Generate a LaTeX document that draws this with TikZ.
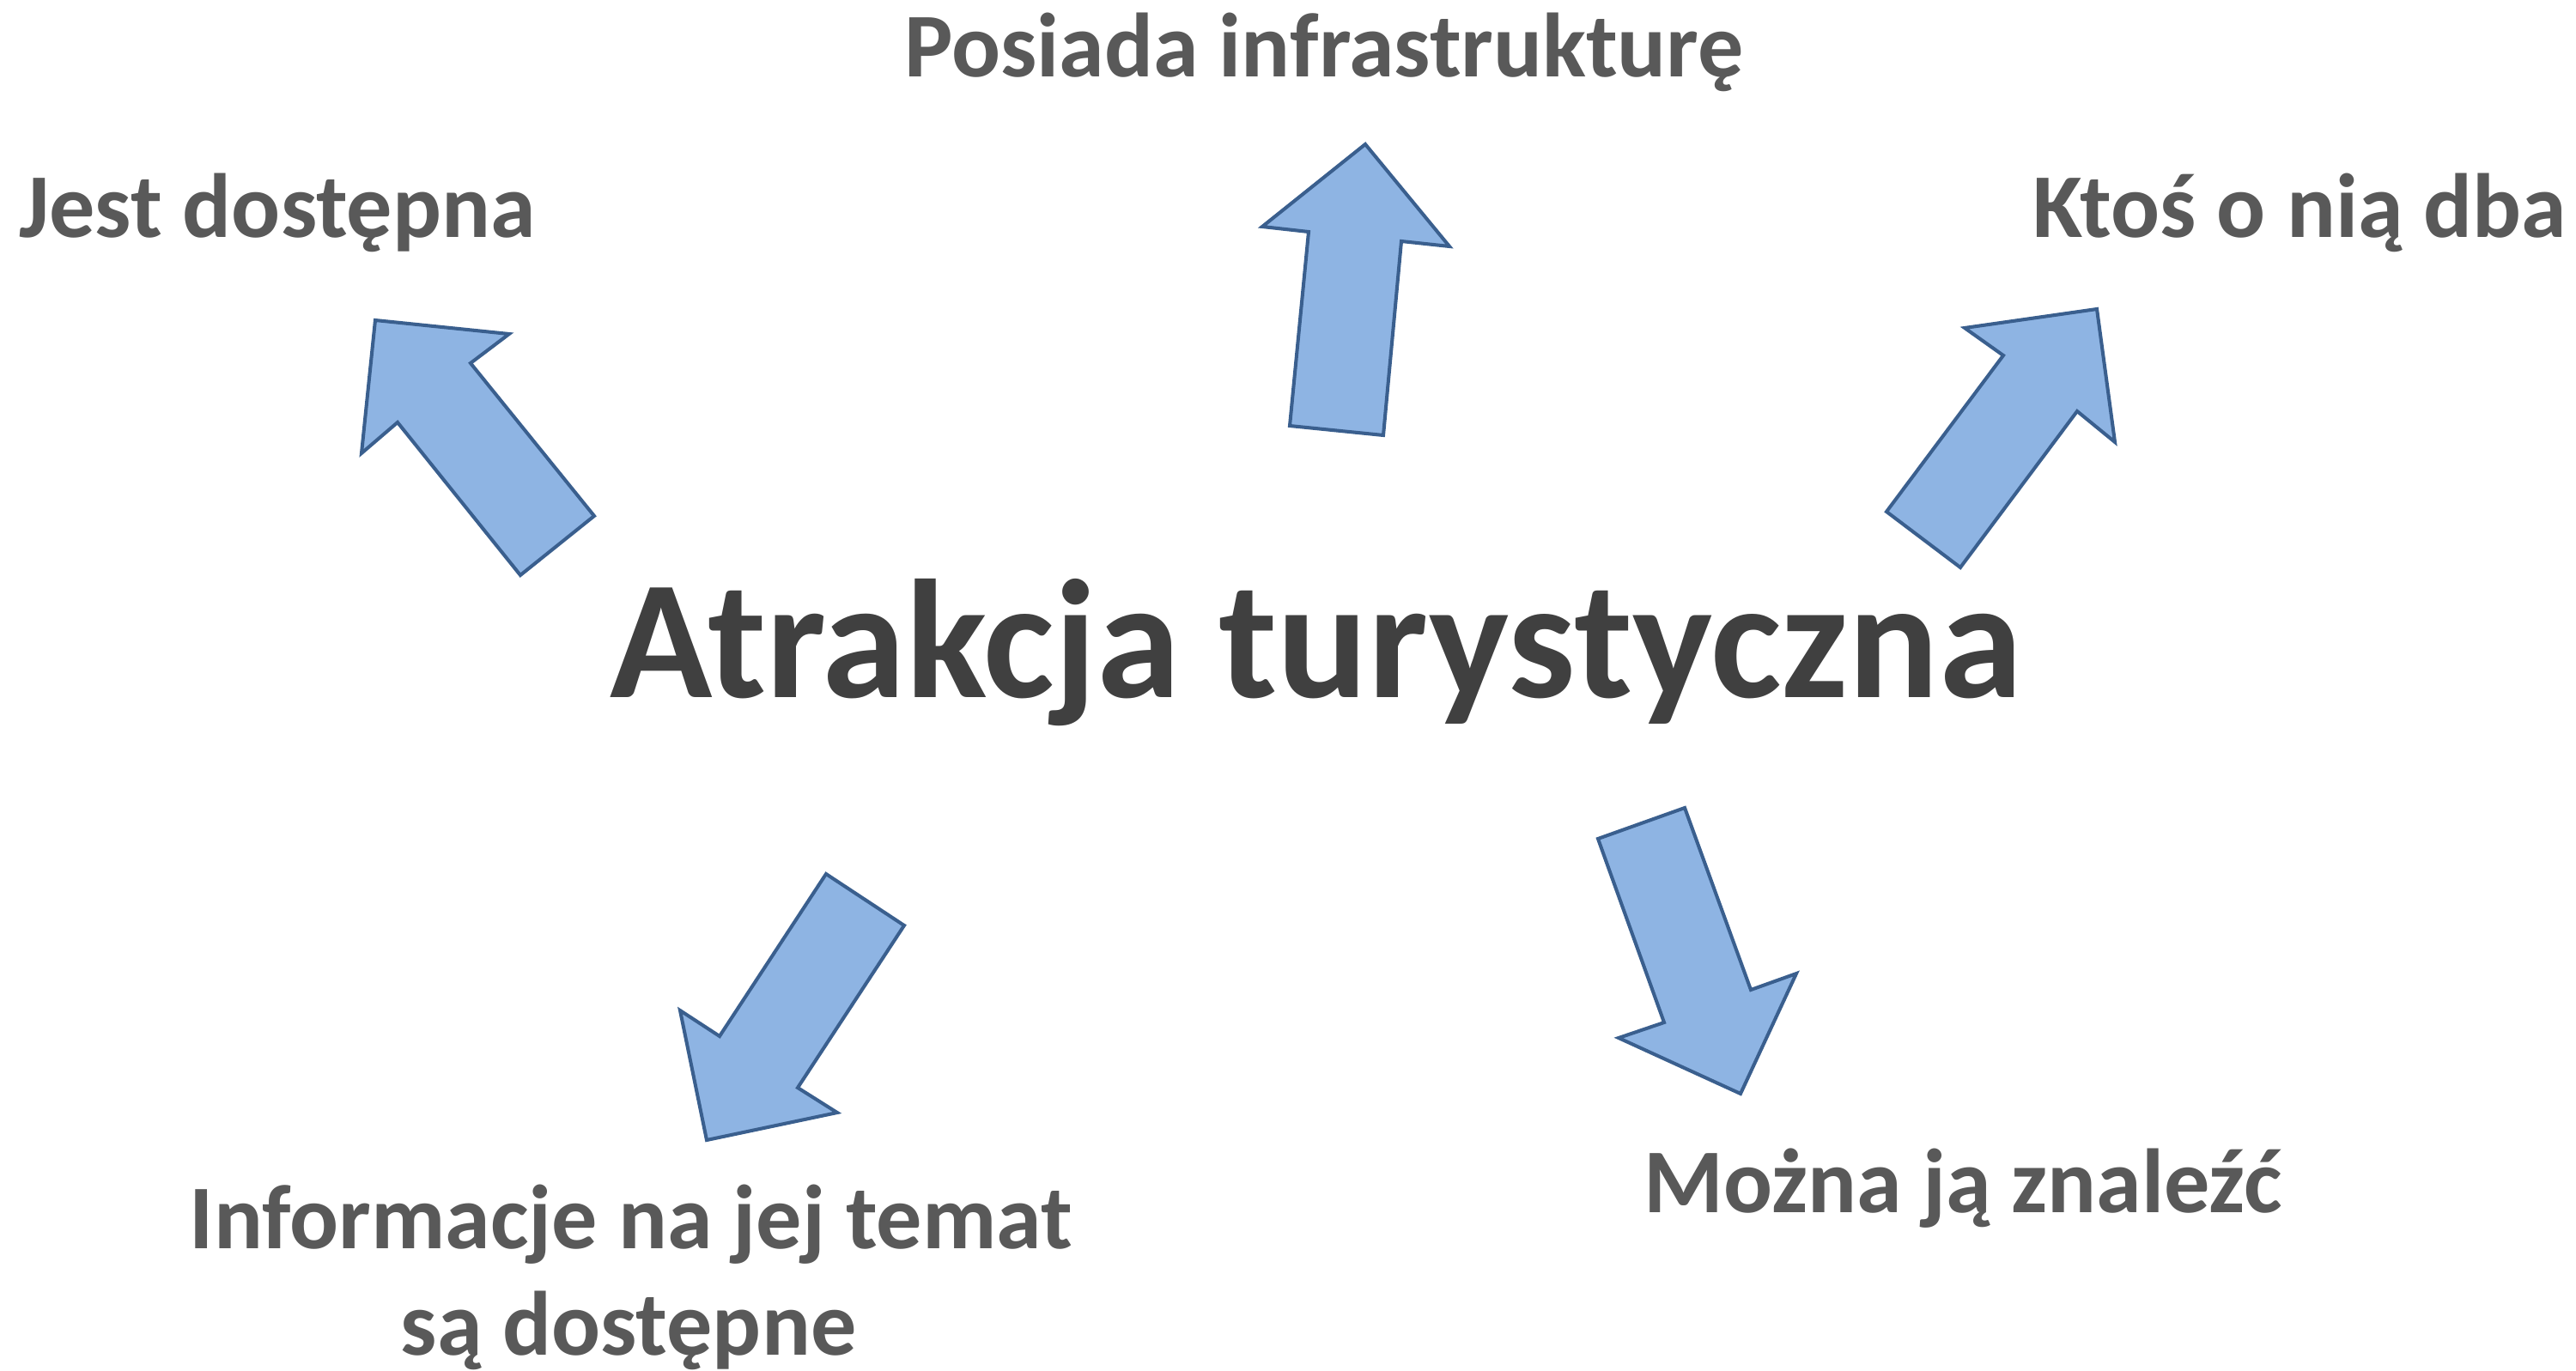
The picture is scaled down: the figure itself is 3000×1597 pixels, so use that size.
\documentclass[tikz,border=0pt]{standalone}
\usepackage{fontspec}
\setmainfont{Carlito}
\definecolor{arrowfill}{HTML}{8EB4E3}
\definecolor{arrowline}{HTML}{3A5F8E}
\definecolor{titlegray}{HTML}{404040}
\definecolor{labelgray}{HTML}{595959}
\tikzset{
  blockarrow/.style={fill=arrowfill,draw=arrowline,line width=1.15pt,line join=miter},
  label/.style={font=\fontsize{30.2}{37}\selectfont\bfseries,text=labelgray,inner sep=0pt,anchor=base},
  title/.style={font=\fontsize{56}{66}\selectfont\bfseries,text=titlegray,inner sep=0pt,anchor=base}
}
\begin{document}
\begin{tikzpicture}[x=0.01cm,y=-0.01cm]
\useasboundingbox (0,0) rectangle (3000,1597);
% arrows
\draw[blockarrow] (437,373) -- (593,389) -- (548,423) -- (692,601) -- (606,670) -- (463,492) -- (421,528) -- cycle;
\draw[blockarrow] (1590,168) -- (1688,287) -- (1632,281) -- (1611,507) -- (1502,496) -- (1524,270) -- (1470,264) -- cycle;
\draw[blockarrow] (2442,360) -- (2463,515) -- (2419,479) -- (2283,661) -- (2197,596) -- (2333,414) -- (2288,382) -- cycle;
\draw[blockarrow] (823,1328) -- (975,1296) -- (929,1267) -- (1053,1078) -- (962,1018) -- (838,1207) -- (792,1177) -- cycle;
\draw[blockarrow] (2027,1274) -- (2092,1134) -- (2039,1153) -- (1962,941) -- (1861,977) -- (1938,1191) -- (1885,1209) -- cycle;
% texts
\node[title] (t) at (1533,812) {Atrakcja turystyczna};
\node[label] (l1) at (1542,90) {Posiada infrastrukturę};
\node[label] (l2) at (323,276) {Jest dostępna};
\node[label] (l3) at (2678,277) {Ktoś o nią dba};
\node[label] (l4) at (735,1454) {Informacje na jej temat};
\node[label] (l5) at (732,1578) {są dostępne};
\node[label] (l6) at (2286,1412) {Można ją znaleźć};
\end{tikzpicture}
\end{document}
